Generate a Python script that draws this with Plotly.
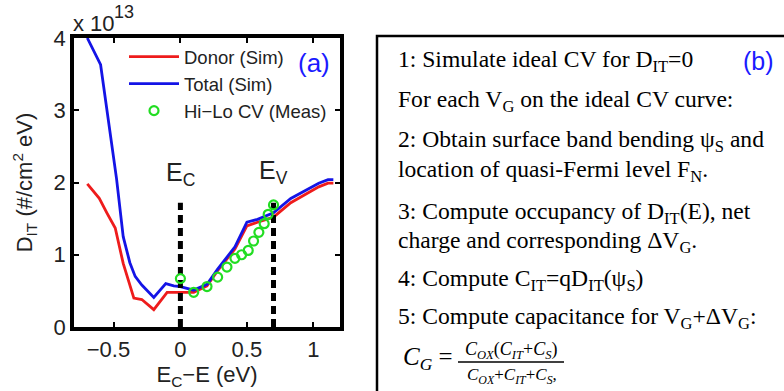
import plotly.graph_objects as go

W, H = 784, 391
L, R, T, B = 74, 340, 38, 327  # plot area in pixels

# ---- data ----
total_x = [-0.70, -0.60, -0.48, -0.43, -0.38, -0.34, -0.29, -0.20, -0.11, -0.05, 0.00, 0.10,
           0.20, 0.28, 0.41, 0.50, 0.58, 0.70, 0.83, 0.93, 1.04, 1.11, 1.15]
total_y = [4.00, 3.63, 2.05, 1.25, 0.89, 0.70, 0.58, 0.41, 0.60, 0.57, 0.56, 0.51,
           0.59, 0.80, 1.11, 1.45, 1.49, 1.58, 1.78, 1.88, 1.99, 2.04, 2.04]

donor_x = [-0.70, -0.61, -0.55, -0.49, -0.43, -0.38, -0.35, -0.29, -0.20, -0.10, 0.00, 0.10,
           0.20, 0.28, 0.41, 0.50, 0.58, 0.70, 0.83, 0.93, 1.04, 1.11, 1.15]
donor_y = [1.98, 1.78, 1.57, 1.37, 0.88, 0.56, 0.40, 0.38, 0.24, 0.48, 0.48, 0.48,
           0.57, 0.78, 1.08, 1.40, 1.45, 1.52, 1.72, 1.83, 1.94, 1.99, 1.99]

meas_x = [0.00, 0.10, 0.20, 0.28, 0.35, 0.41, 0.46, 0.51, 0.55, 0.59, 0.63, 0.66, 0.70]
meas_y = [0.67, 0.48, 0.56, 0.69, 0.83, 0.95, 1.00, 1.06, 1.19, 1.31, 1.43, 1.56, 1.69]

band_edges_x = [0.0, 0.7]
band_edge_top = 1.72
band_labels = ["E<sub>C</sub>", "E<sub>V</sub>"]
band_label_y = [2.12, 2.15]

x_ticks = [-0.5, 0, 0.5, 1]
x_ticklabels = ["\u22120.5\u2002", "0", "0.5", "1"]
y_ticks = [0, 1, 2, 3, 4]
y_ticklabels = ["0", "1", "2", "3", "4"]

steps_text = [
    "1: Simulate ideal CV for D<sub>IT</sub>=0",
    "For each V<sub>G</sub> on the ideal CV curve:",
    "2: Obtain surface band bending \u03c8<sub>S</sub> and",
    "location of quasi-Fermi level F<sub>N</sub>.",
    "3: Compute occupancy of D<sub>IT</sub>(E), net",
    "charge and corresponding \u0394V<sub>G</sub>.",
    "4: Compute C<sub>IT</sub>=qD<sub>IT</sub>(\u03c8<sub>S</sub>)",
    "5: Compute capacitance for V<sub>G</sub>+\u0394V<sub>G</sub>:",
]
steps_py = [61, 101, 140.5, 171, 213, 241.5, 280, 318]


def px(xp):
    return (xp - L) / (R - L)


def py(yp):
    return (B - yp) / (B - T)


SANS = "Liberation Sans, Arial, Helvetica, sans-serif"
SERIF = "Liberation Serif, Times New Roman, serif"
TXT = "#222222"

fig = go.Figure()

fig.add_trace(go.Scatter(x=donor_x, y=donor_y, mode="lines", name="Donor (Sim)",
                         line=dict(color="#ee1c1c", width=2.8)))
fig.add_trace(go.Scatter(x=total_x, y=total_y, mode="lines", name="Total (Sim)",
                         line=dict(color="#1414e6", width=2.8)))
for xv in band_edges_x:
    fig.add_trace(go.Scatter(x=[xv, xv], y=[0, band_edge_top], mode="lines", showlegend=False,
                             line=dict(color="black", width=5, dash="8px,5px"), hoverinfo="skip"))
fig.add_trace(go.Scatter(x=meas_x, y=meas_y, mode="markers", name="Hi\u2212Lo CV (Meas)",
                         marker=dict(symbol="circle-open", size=9, color="#22dd22",
                                     line=dict(width=2.2, color="#22dd22"))))

annotations = []
for xv, yv, t in zip(band_edges_x, band_label_y, band_labels):
    annotations.append(dict(x=xv, y=yv, xref="x", yref="y", text=t, showarrow=False,
                            font=dict(family=SANS, size=25, color=TXT), xanchor="center", yanchor="middle"))

annotations.append(dict(x=px(296), y=py(63), xref="paper", yref="paper", text="(a)", showarrow=False,
                        font=dict(family=SANS, size=26, color="#1a1aff"), xanchor="left", yanchor="middle"))
annotations.append(dict(x=px(71), y=py(23), xref="paper", yref="paper", text="x 10", showarrow=False,
                        font=dict(family=SANS, size=22, color=TXT), xanchor="left", yanchor="middle"))
annotations.append(dict(x=px(112), y=py(12), xref="paper", yref="paper", text="13", showarrow=False,
                        font=dict(family=SANS, size=18, color=TXT), xanchor="left", yanchor="middle"))

for t, yv in zip(steps_text, steps_py):
    annotations.append(dict(x=px(396), y=py(yv), xref="paper", yref="paper", text=t, showarrow=False,
                            font=dict(family=SERIF, size=23.6, color="black"), xanchor="left", yanchor="middle"))
annotations.append(dict(x=px(758), y=py(61), xref="paper", yref="paper", text="(b)", showarrow=False,
                        font=dict(family=SANS, size=25, color="#1a1aff"), xanchor="center", yanchor="middle"))

# formula
annotations.append(dict(x=px(401), y=py(358), xref="paper", yref="paper", text="<i>C<sub>G</sub></i> =",
                        showarrow=False, font=dict(family=SERIF, size=25, color="black"),
                        xanchor="left", yanchor="middle"))
annotations.append(dict(x=px(511), y=py(350), xref="paper", yref="paper",
                        text="<i>C<sub>OX</sub></i>(<i>C<sub>IT</sub></i>+<i>C<sub>S</sub></i>)",
                        showarrow=False, font=dict(family=SERIF, size=18, color="black"),
                        xanchor="center", yanchor="middle"))
annotations.append(dict(x=px(512), y=py(376), xref="paper", yref="paper",
                        text="<i>C<sub>OX</sub></i>+<i>C<sub>IT</sub></i>+<i>C<sub>S</sub></i>,",
                        showarrow=False, font=dict(family=SERIF, size=17, color="black"),
                        xanchor="center", yanchor="middle"))

shapes = [
    dict(type="rect", xref="paper", yref="paper", x0=px(377), x1=px(820), y0=py(420), y1=py(36),
         line=dict(color="black", width=2.5), fillcolor="rgba(0,0,0,0)"),
    dict(type="line", xref="paper", yref="paper", x0=px(458), x1=px(564), y0=py(362), y1=py(362),
         line=dict(color="black", width=1.5)),
]

fig.update_layout(
    width=W, height=H,
    margin=dict(l=L, r=W - R, t=T, b=H - B, pad=0),
    paper_bgcolor="white", plot_bgcolor="white",
    showlegend=True,
    legend=dict(x=px(124), y=py(38), xanchor="left", yanchor="top", bgcolor="rgba(0,0,0,0)",
                font=dict(family=SANS, size=18.5, color=TXT), itemwidth=50, borderwidth=0),
    annotations=annotations,
    shapes=shapes,
    font=dict(family=SANS, color=TXT),
)
fig.update_xaxes(range=[-0.8, 1.2], tickvals=x_ticks, ticktext=x_ticklabels,
                 showline=True, linecolor="black", linewidth=3.5, mirror="ticks",
                 ticks="inside", ticklen=5, tickwidth=2, tickcolor="black",
                 showgrid=False, zeroline=False, tickfont=dict(size=22, family=SANS, color=TXT),
                 title=dict(text="E<sub>C</sub>\u2212E (eV)", font=dict(size=22, family=SANS, color=TXT),
                            standoff=2))
fig.update_yaxes(range=[0, 4], tickvals=y_ticks, ticktext=y_ticklabels,
                 showline=True, linecolor="black", linewidth=3.5, mirror="ticks",
                 ticks="inside", ticklen=5, tickwidth=2, tickcolor="black",
                 showgrid=False, zeroline=False, tickfont=dict(size=22, family=SANS, color=TXT),
                 title=dict(text="D<sub>IT</sub> (#/cm<sup>2</sup> eV)", font=dict(size=22, family=SANS, color=TXT),
                            standoff=16))

fig.write_html("out.html")
